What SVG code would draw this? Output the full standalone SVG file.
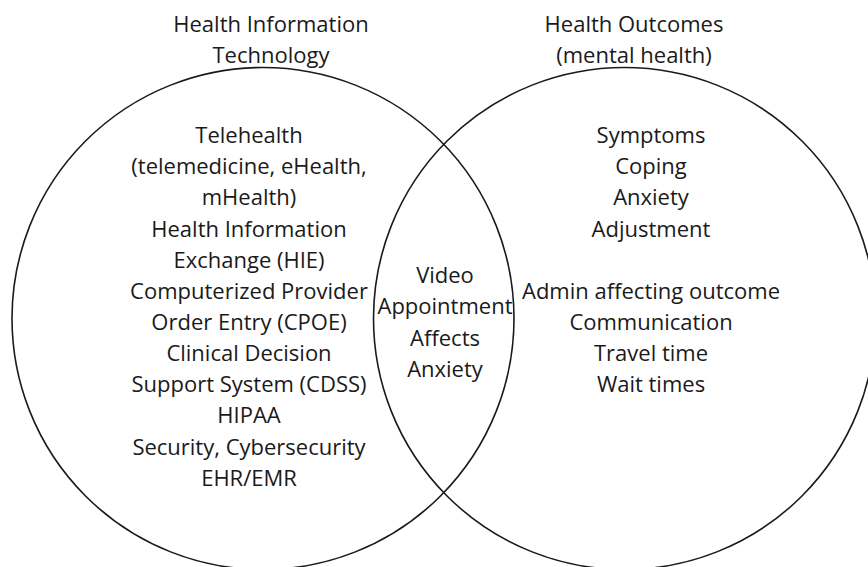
<svg xmlns="http://www.w3.org/2000/svg" width="868" height="567" viewBox="0 0 868 567">
<style>
  .c { fill: none; stroke: #1a1a1a; stroke-width: 1.6; }
  text { font-family: "Open Sans", "Noto Sans", sans-serif; font-size: 22px; fill: #1a1a1a; text-anchor: middle; }
</style>
<rect width="868" height="567" fill="#ffffff"/>
<g id="hit">
  <circle class="c" cx="263" cy="318.5" r="251"/>
  <text x="271" y="32">Health Information</text>
  <text x="271" y="63">Technology</text>
  <text x="249" y="143">Telehealth</text>
  <text x="249" y="174.2">(telemedicine, eHealth,</text>
  <text x="249" y="205.3">mHealth)</text>
  <text x="249" y="236.5">Health Information</text>
  <text x="249" y="267.6">Exchange (HIE)</text>
  <text x="249" y="298.8">Computerized Provider</text>
  <text x="249" y="329.9">Order Entry (CPOE)</text>
  <text x="249" y="361">Clinical Decision</text>
  <text x="249" y="392.2">Support System (CDSS)</text>
  <text x="249" y="423.3">HIPAA</text>
  <text x="249" y="454.5">Security, Cybersecurity</text>
  <text x="249" y="485.7">EHR/EMR</text>
</g>
<g id="outcomes">
  <circle class="c" cx="624.5" cy="318.5" r="251"/>
  <text x="634" y="32">Health Outcomes</text>
  <text x="634" y="63">(mental health)</text>
  <text x="651" y="143">Symptoms</text>
  <text x="651" y="174.2">Coping</text>
  <text x="651" y="205.3">Anxiety</text>
  <text x="651" y="236.5">Adjustment</text>
  <text x="651" y="298.8">Admin affecting outcome</text>
  <text x="651" y="329.9">Communication</text>
  <text x="651" y="361">Travel time</text>
  <text x="651" y="392.2">Wait times</text>
</g>
<g id="overlap">
  <text x="445" y="283.3">Video</text>
  <text x="445" y="314.4">Appointment</text>
  <text x="445" y="345.5">Affects</text>
  <text x="445" y="376.7">Anxiety</text>
</g>
<g id="connectors"></g>
</svg>
